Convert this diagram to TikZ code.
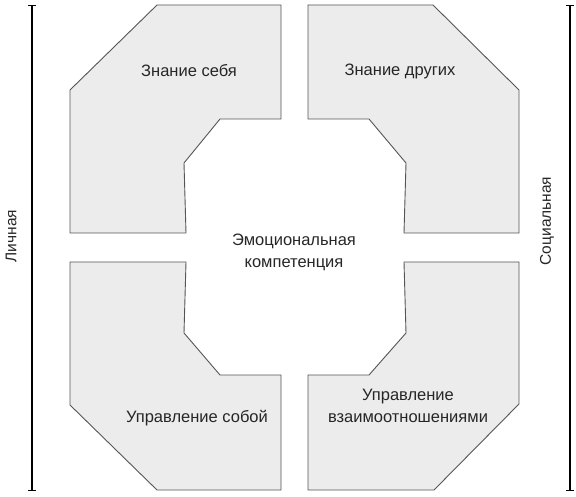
\documentclass[tikz,border=0pt]{standalone}
\usepackage{fontspec}
\setmainfont{Liberation Sans}
\usepackage{tikz}
\usetikzlibrary{positioning}
\usetikzlibrary{arrows}
\definecolor{blockgray}{HTML}{ECECEC}
\definecolor{edgegray}{HTML}{555555}
\tikzset{block/.style={ % Sets the properties for each quarter
           draw=edgegray,
           fill=blockgray,
           line width=0.9pt,
           line join=miter},
         caption/.style={ % Text inside the quarters
           font=\fontsize{16.5}{22}\selectfont,
           text=black!85,
           align=center,
           inner sep=0pt},
         axislabel/.style={ % Rotated labels at the sides
           font=\fontsize{15.5}{18}\selectfont,
           text=black!85,
           rotate=90,
           inner sep=0pt},
         bar/.style={ % Side bars
           draw,
           |-|,
           line width=1.1pt}}

\begin{document}
\begin{tikzpicture}[x=1pt,y=-1pt]
\useasboundingbox (0,0) rectangle (576,497);

% quarters
\draw[block] (157,5) -- (281,5) -- (281,119) -- (220,119) -- (184,163) -- (186,233) -- (70,233) -- (70,90) -- cycle;
\draw[block] (308,5) -- (433,5) -- (519,90) -- (519,233) -- (404,233) -- (406,163) -- (369,119) -- (308,119) -- cycle;
\draw[block] (70,262) -- (186,262) -- (184,333) -- (220,375) -- (281,375) -- (281,490) -- (157,490) -- (70,405) -- cycle;
\draw[block] (404,262) -- (519,262) -- (519,404) -- (434,490) -- (308,490) -- (308,375) -- (369,375) -- (406,333) -- cycle;

\node[caption] (self) at (189,71) {Знание себя};
\node[caption] (others) at (400,71) {Знание других};
\node[caption] (selfmgmt) at (197,418) {Управление собой};
\node[caption] (relmgmt) at (408,406) {Управление\\взаимоотношениями};
\node[caption] (ec) at (294,252) {Эмоциональная\\компетенция};

% side bars
\coordinate (ltop) at (32,5);
\coordinate (lbot) at (32,491);
\coordinate (rtop) at (570,5);
\coordinate (rbot) at (570,491);
\draw[bar] (ltop) -- (lbot);
\draw[bar] (rtop) -- (rbot);

\node[axislabel] (personal) at (11,236) {Личная};
\node[axislabel] (social) at (547,221) {Социальная};

\end{tikzpicture}
\end{document}
